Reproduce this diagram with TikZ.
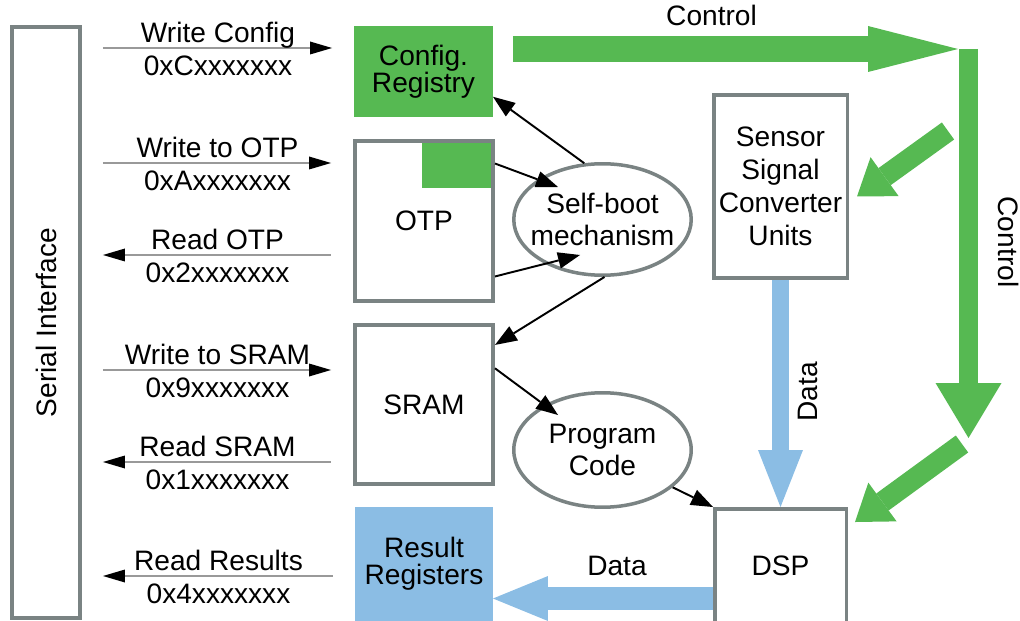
\documentclass[tikz,border=0pt]{standalone}
\usepackage{fontspec}
\setmainfont{Liberation Sans}
\usetikzlibrary{arrows.meta}
\usetikzlibrary{calc}
\usetikzlibrary{shapes.geometric}

\definecolor{ctrlgreen}{RGB}{86,185,82}
\definecolor{datablue}{RGB}{139,189,228}
\definecolor{boxgray}{RGB}{122,131,131}

\tikzset{
  blk/.style={draw=boxgray, line width=0.07cm, fill=white, align=center, inner sep=0pt,
    font=\fontsize{16}{18.7}\selectfont},
  oval/.style={blk, ellipse, inner xsep=-0.2cm},
  lbl/.style={font=\fontsize{16}{18.7}\selectfont, inner sep=0pt},
  bus/.style={draw=black!40, line width=0.6pt, shorten <=0.42cm, shorten >=0.44cm,
    >={Triangle[length=12.5pt,width=7.4pt,color=black,line width=0pt]}},
  link/.style={black, line width=1.1pt, -{Triangle[length=12.5pt,width=9.5pt,line width=0pt]}},
  fatarrow/.style n args={3}{line width=#1, -{Triangle[length=#2,width=#3,line width=0pt]}}
}

\begin{document}
\begin{tikzpicture}[x=0.02cm,y=-0.02cm]
\useasboundingbox (0,0) rectangle (1020,621);
\clip (0,0) rectangle (1020,621);

% blocks
\node[blk, minimum width=1.37cm, minimum height=11.83cm] (serial) at (46,322.5) {};
\node[lbl, rotate=90] (seriallbl) at (serial.center) {Serial Interface};
\node[blk, draw=ctrlgreen, fill=ctrlgreen, minimum width=2.71cm, minimum height=1.75cm,
  font=\fontsize{16}{15.3}\selectfont] (cfg) at (423.5,71.5) {Config.\\Registry};
\node[blk, minimum width=2.77cm, minimum height=3.21cm] (otp) at (424,221) {OTP};
\node[fill=ctrlgreen, inner sep=0pt, minimum width=1.38cm, minimum height=0.9cm, anchor=north east]
  (otpflag) at ($(otp.north east)+(-3.5,3.5)$) {};
\node[blk, minimum width=2.77cm, minimum height=3.19cm] (sram) at (424,404.5) {SRAM};
\node[blk, draw=datablue, fill=datablue, minimum width=2.69cm, minimum height=2.21cm,
  font=\fontsize{16}{15.3}\selectfont] (res) at (424,564) {Result\\Registers};
\node[oval, minimum width=3.55cm, minimum height=2.23cm] (boot) at (602.5,219.5) {Self-boot\\mechanism};
\node[oval, minimum width=3.55cm, minimum height=2.29cm] (prog) at (602.5,450) {Program\\Code};
\node[blk, minimum width=2.67cm, minimum height=3.67cm] (ssc) at (780.5,186.5) {Sensor\\Signal\\Converter\\Units};
\node[blk, minimum width=2.63cm, minimum height=2.29cm] (dsp) at (780.5,566) {DSP};

% serial interface accesses
\foreach \yy/\tgt/\dir/\upper/\lower in {48/cfg/->/Write Config/0xCxxxxxxx,
    163/otp/->/Write to OTP/0xAxxxxxxx, 255/otp/<-/Read OTP/0x2xxxxxxx,
    370/sram/->/Write to SRAM/0x9xxxxxxx, 462/sram/<-/Read SRAM/0x1xxxxxxx,
    576/res/<-/Read Results/0x4xxxxxxx} {
  \draw[bus,\dir] (serial.east |- 0,\yy) -- (\tgt.west |- 0,\yy)
    node[lbl, midway, anchor=base, yshift=3pt] (up-\yy) {\upper}
    node[lbl, midway, anchor=base, yshift=-15.8pt] (lo-\yy) {\lower};
}

% boot paths
\draw[link] (boot.108) -- (cfg.-20);
\draw[link] (otp.39) -- ($(boot.center)+(-44.5,-32.5)$);
\draw[link] (otp.-38) -- ($(boot.center)+(-22.5,35.5)$);
\draw[link] (boot.-88) -- (sram.40);
\draw[link] (sram.27) -- ($(prog.center)+(-44.5,-35)$);
\draw[link] (prog.-28) -- (dsp.north west);

% control
\coordinate (ctla) at (958,49);
\coordinate (ctltop) at (968.5,49);
\coordinate (ctlbot) at (968.5,438);
\coordinate (ctlsrc1) at (948,131);
\coordinate (ctlsrc2) at (962,444);
\draw[ctrlgreen, fatarrow={0.52cm}{1.8cm}{0.92cm}, shorten <=0.4cm] (cfg.east |- 0,49) -- (ctla)
  node[lbl, text=black, pos=.47, anchor=base, yshift=13.6pt] (ctlh) {Control};
\draw[ctrlgreen, fatarrow={0.38cm}{1.1cm}{1.32cm}] (ctltop) -- (ctlbot);
\node[lbl, rotate=-90] (ctlv) at (1009,242) {Control};
\draw[ctrlgreen, fatarrow={0.42cm}{0.68cm}{0.96cm}] (ctlsrc1) -- ($(ssc.east)+(8,10)$);
\draw[ctrlgreen, fatarrow={0.42cm}{0.68cm}{0.96cm}] (ctlsrc2) -- ($(dsp.north east)+(7,15)$);

% data
\draw[datablue, fatarrow={0.34cm}{1.14cm}{0.9cm}] (ssc.south) -- (dsp.north);
\node[lbl, rotate=90] (datav) at (808,392) {Data};
\draw[datablue, fatarrow={0.46cm}{1.1cm}{0.9cm}] (dsp.west |- 0,598.5) -- (res.east |- 0,598.5);
\node[lbl, anchor=base] (datah) at (617,575) {Data};
\end{tikzpicture}
\end{document}
